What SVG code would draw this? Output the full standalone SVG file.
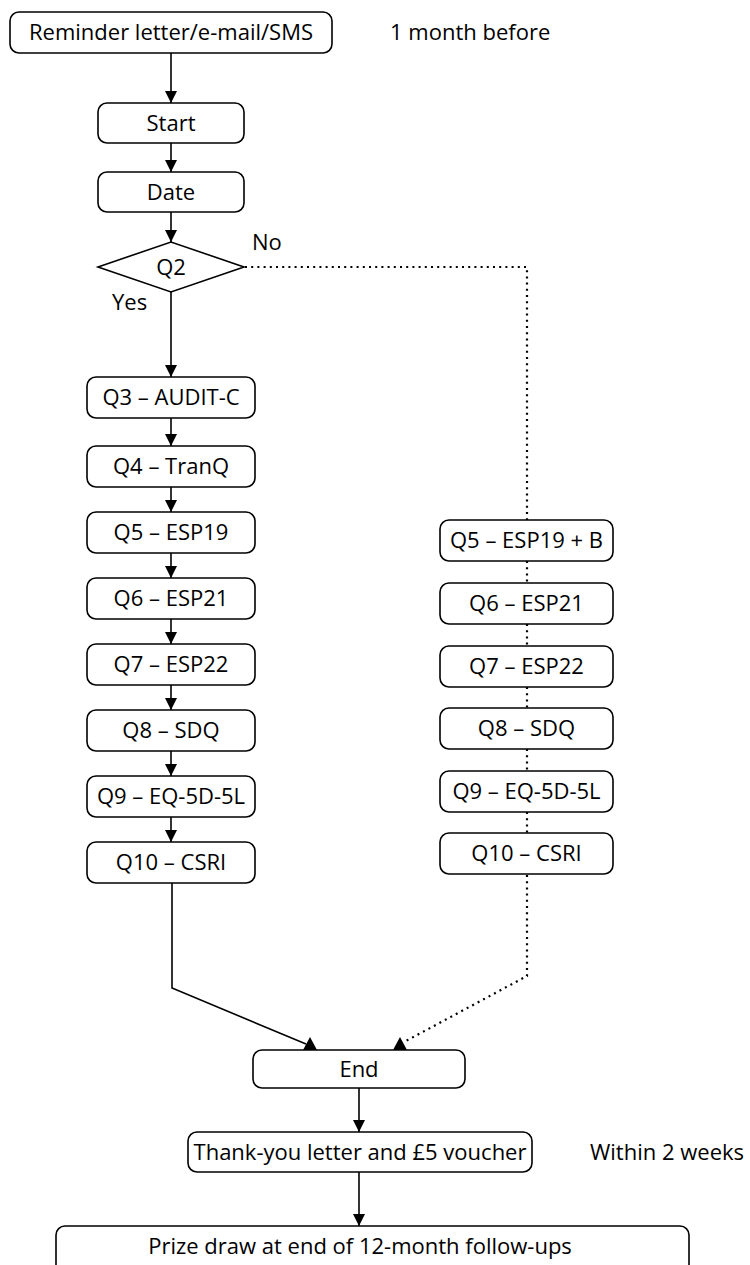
<svg xmlns="http://www.w3.org/2000/svg" width="750" height="1265" viewBox="0 0 750 1265">
<style>
.box{fill:#fff;stroke:#000;stroke-width:1.6}
.t{font-family:"Open Sans","Noto Sans","Liberation Sans",sans-serif;font-size:22px;fill:#000;text-anchor:middle}
.l{font-family:"Open Sans","Noto Sans","Liberation Sans",sans-serif;font-size:22px;fill:#000}
.s{fill:none;stroke:#000;stroke-width:1.6}
.d{fill:none;stroke:#000;stroke-width:2.2;stroke-dasharray:2 4.2}
.h{fill:#000}
</style>
<defs>
<marker id="a" markerUnits="userSpaceOnUse" markerWidth="12" markerHeight="12" refX="12" refY="6" orient="auto" viewBox="0 0 12 12">
<path d="M0,0 L12,6 L0,12 z" fill="#000"/>
</marker>
</defs>
<g id="connectors">
<line class="s" x1="171" y1="53" x2="171" y2="103" marker-end="url(#a)"/>
<line class="s" x1="171" y1="143" x2="171" y2="172" marker-end="url(#a)"/>
<line class="s" x1="171" y1="212" x2="171" y2="242" marker-end="url(#a)"/>
<line class="s" x1="171" y1="292" x2="171" y2="377" marker-end="url(#a)"/>
<line class="s" x1="171" y1="418" x2="171" y2="446" marker-end="url(#a)"/>
<line class="s" x1="171" y1="487" x2="171" y2="512" marker-end="url(#a)"/>
<line class="s" x1="171" y1="553" x2="171" y2="578" marker-end="url(#a)"/>
<line class="s" x1="171" y1="619" x2="171" y2="644" marker-end="url(#a)"/>
<line class="s" x1="171" y1="685" x2="171" y2="710" marker-end="url(#a)"/>
<line class="s" x1="171" y1="751" x2="171" y2="776" marker-end="url(#a)"/>
<line class="s" x1="171" y1="817" x2="171" y2="842" marker-end="url(#a)"/>
<polyline class="s" points="172,883 172,988 306,1044"/>
<polygon class="h" points="303,1050 317,1050 310,1037"/>
<polyline class="d" points="245,267 527,267 527,520"/>
<line class="d" x1="527" y1="561" x2="527" y2="583"/>
<line class="d" x1="527" y1="624" x2="527" y2="646"/>
<line class="d" x1="527" y1="687" x2="527" y2="708"/>
<line class="d" x1="527" y1="749" x2="527" y2="771"/>
<line class="d" x1="527" y1="812" x2="527" y2="833"/>
<polyline class="d" points="527,875 527,976 404,1042"/>
<polygon class="h" points="393,1050 407,1050 400,1037"/>
<line class="s" x1="359" y1="1088" x2="359" y2="1132" marker-end="url(#a)"/>
<line class="s" x1="359" y1="1172" x2="359" y2="1226" marker-end="url(#a)"/>
</g>
<g id="n-reminder"><rect class="box" x="10" y="12" width="322" height="41" rx="9"/><text class="t" x="171" y="40">Reminder letter/e-mail/SMS</text></g>
<g id="n-1month"><text class="l" x="390" y="40">1 month before</text></g>
<g id="n-start"><rect class="box" x="98" y="103" width="146" height="40" rx="9"/><text class="t" x="171" y="130.5">Start</text></g>
<g id="n-date"><rect class="box" x="98" y="172" width="146" height="40" rx="9"/><text class="t" x="171" y="199.5">Date</text></g>
<g id="n-q2"><polygon class="box" points="98,267 171,242 244,267 171,292"/><text class="t" x="171" y="275">Q2</text></g>
<g id="l-no"><text class="l" x="252" y="250">No</text></g>
<g id="l-yes"><text class="l" x="112" y="310">Yes</text></g>
<g id="n-q3"><rect class="box" x="87" y="377" width="168" height="41" rx="9"/><text class="t" x="171" y="405">Q3 – AUDIT-C</text></g>
<g id="n-q4"><rect class="box" x="87" y="446" width="168" height="41" rx="9"/><text class="t" x="171" y="474">Q4 – TranQ</text></g>
<g id="n-q5"><rect class="box" x="87" y="512" width="168" height="41" rx="9"/><text class="t" x="171" y="540">Q5 – ESP19</text></g>
<g id="n-q6"><rect class="box" x="87" y="578" width="168" height="41" rx="9"/><text class="t" x="171" y="606">Q6 – ESP21</text></g>
<g id="n-q7"><rect class="box" x="87" y="644" width="168" height="41" rx="9"/><text class="t" x="171" y="672">Q7 – ESP22</text></g>
<g id="n-q8"><rect class="box" x="87" y="710" width="168" height="41" rx="9"/><text class="t" x="171" y="738">Q8 – SDQ</text></g>
<g id="n-q9"><rect class="box" x="87" y="776" width="168" height="41" rx="9"/><text class="t" x="171" y="804">Q9 – EQ-5D-5L</text></g>
<g id="n-q10"><rect class="box" x="87" y="842" width="168" height="41" rx="9"/><text class="t" x="171" y="870">Q10 – CSRI</text></g>
<g id="n-r5"><rect class="box" x="440" y="520" width="173" height="41" rx="9"/><text class="t" x="526.5" y="548">Q5 – ESP19 + B</text></g>
<g id="n-r6"><rect class="box" x="440" y="583" width="173" height="41" rx="9"/><text class="t" x="526.5" y="611">Q6 – ESP21</text></g>
<g id="n-r7"><rect class="box" x="440" y="646" width="173" height="41" rx="9"/><text class="t" x="526.5" y="674">Q7 – ESP22</text></g>
<g id="n-r8"><rect class="box" x="440" y="708" width="173" height="41" rx="9"/><text class="t" x="526.5" y="736">Q8 – SDQ</text></g>
<g id="n-r9"><rect class="box" x="440" y="771" width="173" height="41" rx="9"/><text class="t" x="526.5" y="799">Q9 – EQ-5D-5L</text></g>
<g id="n-r10"><rect class="box" x="440" y="833" width="173" height="41" rx="9"/><text class="t" x="526.5" y="861">Q10 – CSRI</text></g>
<g id="n-end"><rect class="box" x="253" y="1050" width="212" height="38" rx="9"/><text class="t" x="359" y="1077">End</text></g>
<g id="n-thanks"><rect class="box" x="188" y="1132" width="344" height="40" rx="9"/><text class="t" x="360" y="1160">Thank-you letter and £5 voucher</text></g>
<g id="n-within"><text class="l" x="590" y="1160">Within 2 weeks</text></g>
<g id="n-prize"><rect class="box" x="56" y="1226" width="633" height="50" rx="9"/><text class="t" x="360" y="1254">Prize draw at end of 12-month follow-ups</text></g>
</svg>
